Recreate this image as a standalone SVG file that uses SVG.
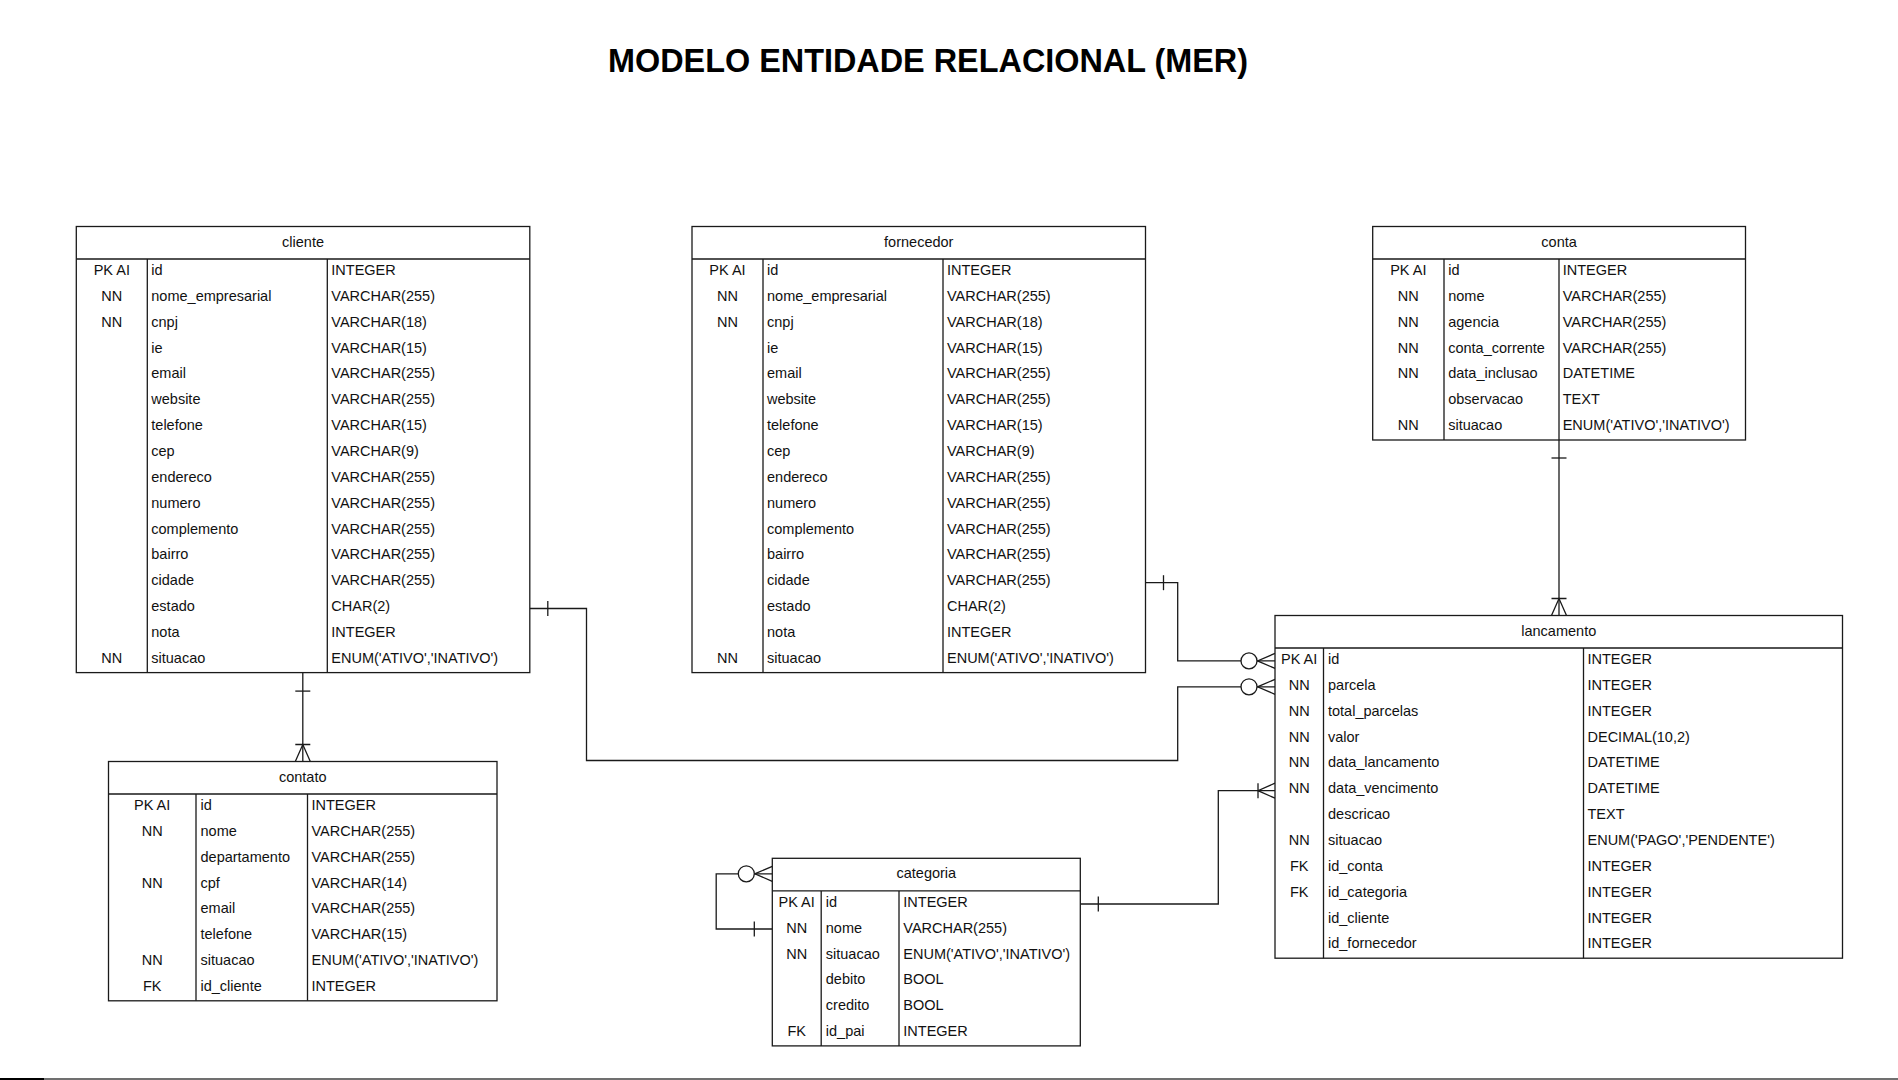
<svg xmlns="http://www.w3.org/2000/svg" width="1898" height="1080" viewBox="0 0 1898 1080">
<style>
.t{font-family:"Liberation Sans",Arial,sans-serif;font-size:14.5px;fill:#111}
.c{text-anchor:middle}
.title{font-family:"Liberation Sans",Arial,sans-serif;font-size:32.4px;font-weight:bold;fill:#000;text-anchor:middle}
.box{fill:#fff;stroke:#1a1a1a;stroke-width:1.3}
.ln{fill:none;stroke:#1a1a1a;stroke-width:1.3}
.mk{fill:none;stroke:#1a1a1a;stroke-width:1.3}
.mkc{fill:#fff;stroke:#1a1a1a;stroke-width:1.3}
</style>
<defs>
<marker id="one" markerUnits="userSpaceOnUse" orient="auto-start-reverse" overflow="visible" refX="0" refY="0" markerWidth="1" markerHeight="1"><path class="mk" d="M-18,-7.5 V7.5"/></marker>
<marker id="oneMany" markerUnits="userSpaceOnUse" orient="auto" overflow="visible" refX="0" refY="0" markerWidth="1" markerHeight="1"><path class="mk" d="M-17,-7.5 V7.5 M0,-7.5 L-17,0 L0,7.5"/></marker>
<marker id="zeroMany" markerUnits="userSpaceOnUse" orient="auto" overflow="visible" refX="0" refY="0" markerWidth="1" markerHeight="1"><path class="mk" d="M0,-7.5 L-17.5,0 L0,7.5"/><circle class="mkc" cx="-26" cy="0" r="8"/></marker>
</defs>
<rect width="1898" height="1080" fill="#fff"/>
<text class="title" x="928" y="72">MODELO ENTIDADE RELACIONAL (MER)</text>

<g id="connectors">
<path class="ln" d="M302.8,673.1 V761.5" marker-start="url(#one)" marker-end="url(#oneMany)"/>
<path class="ln" d="M529.8,608.5 H586.5 V760.5 H1177.7 V686.8 H1275" marker-start="url(#one)" marker-end="url(#zeroMany)"/>
<path class="ln" d="M1145.5,582.7 H1177.7 V660.9 H1275" marker-start="url(#one)" marker-end="url(#zeroMany)"/>
<path class="ln" d="M1559,440 V615.5" marker-start="url(#one)" marker-end="url(#oneMany)"/>
<path class="ln" d="M1080.3,904 H1218.3 V790.7 H1275" marker-start="url(#one)" marker-end="url(#oneMany)"/>
<path class="ln" d="M772.3,929 H716.2 V873.8 H772.3" marker-start="url(#one)" marker-end="url(#zeroMany)"/>
</g>

<g id="cliente" transform="translate(76.3,226.5)">
<rect class="box" x="0" y="0" width="453.5" height="446.1"/>
<path class="ln" d="M0,32.5 H453.5 M71,32.5 V446.1 M251,32.5 V446.1"/>
<text class="t c" x="226.75" y="20">cliente</text>
<g class="t" transform="translate(0,-1.4)">
<text class="c" x="35.5" y="50">PK AI</text><text x="75" y="50">id</text><text x="255" y="50">INTEGER</text>
<text class="c" x="35.5" y="75.9">NN</text><text x="75" y="75.9">nome_empresarial</text><text x="255" y="75.9">VARCHAR(255)</text>
<text class="c" x="35.5" y="101.7">NN</text><text x="75" y="101.7">cnpj</text><text x="255" y="101.7">VARCHAR(18)</text>
<text x="75" y="127.6">ie</text><text x="255" y="127.6">VARCHAR(15)</text>
<text x="75" y="153.4">email</text><text x="255" y="153.4">VARCHAR(255)</text>
<text x="75" y="179.3">website</text><text x="255" y="179.3">VARCHAR(255)</text>
<text x="75" y="205.1">telefone</text><text x="255" y="205.1">VARCHAR(15)</text>
<text x="75" y="231">cep</text><text x="255" y="231">VARCHAR(9)</text>
<text x="75" y="256.8">endereco</text><text x="255" y="256.8">VARCHAR(255)</text>
<text x="75" y="282.7">numero</text><text x="255" y="282.7">VARCHAR(255)</text>
<text x="75" y="308.5">complemento</text><text x="255" y="308.5">VARCHAR(255)</text>
<text x="75" y="334.4">bairro</text><text x="255" y="334.4">VARCHAR(255)</text>
<text x="75" y="360.2">cidade</text><text x="255" y="360.2">VARCHAR(255)</text>
<text x="75" y="386.1">estado</text><text x="255" y="386.1">CHAR(2)</text>
<text x="75" y="411.9">nota</text><text x="255" y="411.9">INTEGER</text>
<text class="c" x="35.5" y="437.8">NN</text><text x="75" y="437.8">situacao</text><text x="255" y="437.8">ENUM('ATIVO','INATIVO')</text>
</g>
</g>

<g id="fornecedor" transform="translate(692,226.5)">
<rect class="box" x="0" y="0" width="453.5" height="446.1"/>
<path class="ln" d="M0,32.5 H453.5 M71,32.5 V446.1 M251,32.5 V446.1"/>
<text class="t c" x="226.75" y="20">fornecedor</text>
<g class="t" transform="translate(0,-1.4)">
<text class="c" x="35.5" y="50">PK AI</text><text x="75" y="50">id</text><text x="255" y="50">INTEGER</text>
<text class="c" x="35.5" y="75.9">NN</text><text x="75" y="75.9">nome_empresarial</text><text x="255" y="75.9">VARCHAR(255)</text>
<text class="c" x="35.5" y="101.7">NN</text><text x="75" y="101.7">cnpj</text><text x="255" y="101.7">VARCHAR(18)</text>
<text x="75" y="127.6">ie</text><text x="255" y="127.6">VARCHAR(15)</text>
<text x="75" y="153.4">email</text><text x="255" y="153.4">VARCHAR(255)</text>
<text x="75" y="179.3">website</text><text x="255" y="179.3">VARCHAR(255)</text>
<text x="75" y="205.1">telefone</text><text x="255" y="205.1">VARCHAR(15)</text>
<text x="75" y="231">cep</text><text x="255" y="231">VARCHAR(9)</text>
<text x="75" y="256.8">endereco</text><text x="255" y="256.8">VARCHAR(255)</text>
<text x="75" y="282.7">numero</text><text x="255" y="282.7">VARCHAR(255)</text>
<text x="75" y="308.5">complemento</text><text x="255" y="308.5">VARCHAR(255)</text>
<text x="75" y="334.4">bairro</text><text x="255" y="334.4">VARCHAR(255)</text>
<text x="75" y="360.2">cidade</text><text x="255" y="360.2">VARCHAR(255)</text>
<text x="75" y="386.1">estado</text><text x="255" y="386.1">CHAR(2)</text>
<text x="75" y="411.9">nota</text><text x="255" y="411.9">INTEGER</text>
<text class="c" x="35.5" y="437.8">NN</text><text x="75" y="437.8">situacao</text><text x="255" y="437.8">ENUM('ATIVO','INATIVO')</text>
</g>
</g>

<g id="conta" transform="translate(1372.7,226.5)">
<rect class="box" x="0" y="0" width="372.8" height="213.5"/>
<path class="ln" d="M0,32.5 H372.8 M71.3,32.5 V213.5 M186.3,32.5 V213.5"/>
<text class="t c" x="186.4" y="20">conta</text>
<g class="t" transform="translate(0,-1.4)">
<text class="c" x="35.6" y="50">PK AI</text><text x="75.5" y="50">id</text><text x="190" y="50">INTEGER</text>
<text class="c" x="35.6" y="75.9">NN</text><text x="75.5" y="75.9">nome</text><text x="190" y="75.9">VARCHAR(255)</text>
<text class="c" x="35.6" y="101.7">NN</text><text x="75.5" y="101.7">agencia</text><text x="190" y="101.7">VARCHAR(255)</text>
<text class="c" x="35.6" y="127.6">NN</text><text x="75.5" y="127.6">conta_corrente</text><text x="190" y="127.6">VARCHAR(255)</text>
<text class="c" x="35.6" y="153.4">NN</text><text x="75.5" y="153.4">data_inclusao</text><text x="190" y="153.4">DATETIME</text>
<text x="75.5" y="179.3">observacao</text><text x="190" y="179.3">TEXT</text>
<text class="c" x="35.6" y="205.1">NN</text><text x="75.5" y="205.1">situacao</text><text x="190" y="205.1">ENUM('ATIVO','INATIVO')</text>
</g>
</g>

<g id="lancamento" transform="translate(1275,615.5)">
<rect class="box" x="0" y="0" width="567.5" height="342.7"/>
<path class="ln" d="M0,32.5 H567.5 M48.5,32.5 V342.7 M308.5,32.5 V342.7"/>
<text class="t c" x="283.75" y="20">lancamento</text>
<g class="t" transform="translate(0,-1.4)">
<text class="c" x="24.2" y="50">PK AI</text><text x="53" y="50">id</text><text x="312.5" y="50">INTEGER</text>
<text class="c" x="24.2" y="75.9">NN</text><text x="53" y="75.9">parcela</text><text x="312.5" y="75.9">INTEGER</text>
<text class="c" x="24.2" y="101.7">NN</text><text x="53" y="101.7">total_parcelas</text><text x="312.5" y="101.7">INTEGER</text>
<text class="c" x="24.2" y="127.6">NN</text><text x="53" y="127.6">valor</text><text x="312.5" y="127.6">DECIMAL(10,2)</text>
<text class="c" x="24.2" y="153.4">NN</text><text x="53" y="153.4">data_lancamento</text><text x="312.5" y="153.4">DATETIME</text>
<text class="c" x="24.2" y="179.3">NN</text><text x="53" y="179.3">data_vencimento</text><text x="312.5" y="179.3">DATETIME</text>
<text x="53" y="205.1">descricao</text><text x="312.5" y="205.1">TEXT</text>
<text class="c" x="24.2" y="231">NN</text><text x="53" y="231">situacao</text><text x="312.5" y="231">ENUM('PAGO','PENDENTE')</text>
<text class="c" x="24.2" y="256.8">FK</text><text x="53" y="256.8">id_conta</text><text x="312.5" y="256.8">INTEGER</text>
<text class="c" x="24.2" y="282.7">FK</text><text x="53" y="282.7">id_categoria</text><text x="312.5" y="282.7">INTEGER</text>
<text x="53" y="308.5">id_cliente</text><text x="312.5" y="308.5">INTEGER</text>
<text x="53" y="334.4">id_fornecedor</text><text x="312.5" y="334.4">INTEGER</text>
</g>
</g>

<g id="contato" transform="translate(108.5,761.5)">
<rect class="box" x="0" y="0" width="388.5" height="239.3"/>
<path class="ln" d="M0,32.5 H388.5 M87.5,32.5 V239.3 M199,32.5 V239.3"/>
<text class="t c" x="194.25" y="20">contato</text>
<g class="t" transform="translate(0,-1.4)">
<text class="c" x="43.7" y="50">PK AI</text><text x="92" y="50">id</text><text x="203" y="50">INTEGER</text>
<text class="c" x="43.7" y="75.9">NN</text><text x="92" y="75.9">nome</text><text x="203" y="75.9">VARCHAR(255)</text>
<text x="92" y="101.7">departamento</text><text x="203" y="101.7">VARCHAR(255)</text>
<text class="c" x="43.7" y="127.6">NN</text><text x="92" y="127.6">cpf</text><text x="203" y="127.6">VARCHAR(14)</text>
<text x="92" y="153.4">email</text><text x="203" y="153.4">VARCHAR(255)</text>
<text x="92" y="179.3">telefone</text><text x="203" y="179.3">VARCHAR(15)</text>
<text class="c" x="43.7" y="205.1">NN</text><text x="92" y="205.1">situacao</text><text x="203" y="205.1">ENUM('ATIVO','INATIVO')</text>
<text class="c" x="43.7" y="231">FK</text><text x="92" y="231">id_cliente</text><text x="203" y="231">INTEGER</text>
</g>
</g>

<g id="categoria" transform="translate(772.3,858.3)">
<rect class="box" x="0" y="0" width="308" height="187.6"/>
<path class="ln" d="M0,32.5 H308 M48.9,32.5 V187.6 M126.7,32.5 V187.6"/>
<text class="t c" x="154" y="20">categoria</text>
<g class="t" transform="translate(0,-1.4)">
<text class="c" x="24.4" y="50">PK AI</text><text x="53.5" y="50">id</text><text x="131" y="50">INTEGER</text>
<text class="c" x="24.4" y="75.9">NN</text><text x="53.5" y="75.9">nome</text><text x="131" y="75.9">VARCHAR(255)</text>
<text class="c" x="24.4" y="101.7">NN</text><text x="53.5" y="101.7">situacao</text><text x="131" y="101.7">ENUM('ATIVO','INATIVO')</text>
<text x="53.5" y="127.6">debito</text><text x="131" y="127.6">BOOL</text>
<text x="53.5" y="153.4">credito</text><text x="131" y="153.4">BOOL</text>
<text class="c" x="24.4" y="179.3">FK</text><text x="53.5" y="179.3">id_pai</text><text x="131" y="179.3">INTEGER</text>
</g>
</g>

<rect x="0" y="1078" width="44" height="2" fill="#000"/>
<rect x="44" y="1078" width="1854" height="2" fill="#707070"/>
</svg>
